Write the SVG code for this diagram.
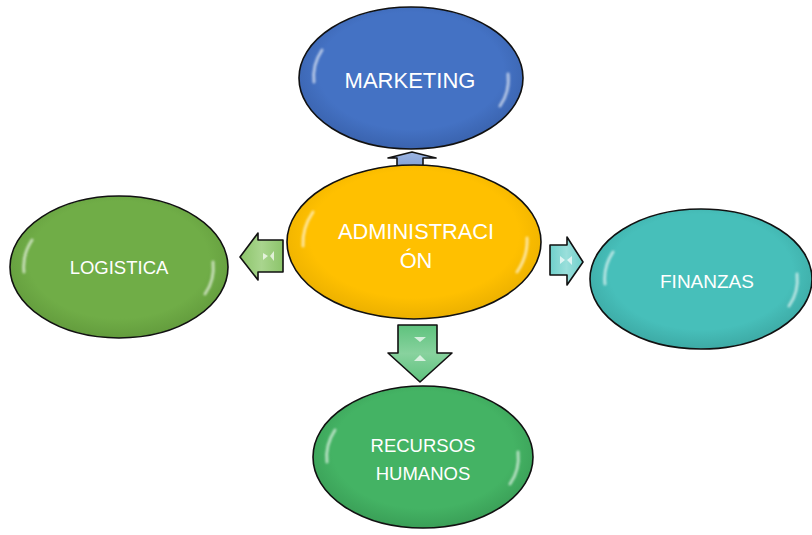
<svg xmlns="http://www.w3.org/2000/svg" width="812" height="535" viewBox="0 0 812 535">
<defs>
<radialGradient id="gBlue" cx="50%" cy="45%" r="55%"><stop offset="0.75" stop-color="#4472C4"/><stop offset="1" stop-color="#3A63AE"/></radialGradient>
<radialGradient id="gOrange" cx="50%" cy="45%" r="55%"><stop offset="0.75" stop-color="#FFC000"/><stop offset="1" stop-color="#EBB000"/></radialGradient>
<radialGradient id="gOlive" cx="50%" cy="45%" r="55%"><stop offset="0.75" stop-color="#70AD47"/><stop offset="1" stop-color="#639C3D"/></radialGradient>
<radialGradient id="gTeal" cx="50%" cy="45%" r="55%"><stop offset="0.75" stop-color="#47BFBA"/><stop offset="1" stop-color="#3DAAA5"/></radialGradient>
<radialGradient id="gGreen" cx="50%" cy="45%" r="55%"><stop offset="0.75" stop-color="#44B364"/><stop offset="1" stop-color="#3A9F57"/></radialGradient>
<linearGradient id="aBlue" x1="0" y1="0" x2="0" y2="1"><stop offset="0" stop-color="#9DB5E2"/><stop offset="1" stop-color="#7F9ED6"/></linearGradient>
<linearGradient id="aOlive" x1="0" y1="0" x2="1" y2="0"><stop offset="0" stop-color="#8CC46A"/><stop offset="0.5" stop-color="#A9D58E"/><stop offset="1" stop-color="#8CC46A"/></linearGradient>
<linearGradient id="aTeal" x1="0" y1="0" x2="1" y2="0"><stop offset="0" stop-color="#6FD0CB"/><stop offset="0.5" stop-color="#9ADFDB"/><stop offset="1" stop-color="#6FD0CB"/></linearGradient>
<linearGradient id="aGreen" x1="0" y1="0" x2="0" y2="1"><stop offset="0" stop-color="#5EC27D"/><stop offset="0.5" stop-color="#88D29E"/><stop offset="1" stop-color="#5EC27D"/></linearGradient>
<filter id="soft" x="-50%" y="-50%" width="200%" height="200%"><feGaussianBlur stdDeviation="1.2"/></filter>
</defs>
<style>
.node ellipse.body{stroke:#111;stroke-width:1.6}
.hl{fill:none;stroke:#fff;stroke-width:3;stroke-linecap:round;opacity:0.6;filter:url(#soft)}
.lbl{font-family:"Liberation Sans",Arial,sans-serif;fill:#fff;text-anchor:middle}
.arrow{stroke:#111;stroke-width:1.6;stroke-linejoin:round}
.glint{fill:#fff;opacity:0.7}
</style>
<rect width="812" height="535" fill="#fff"/>
<g id="connectors">
<path class="arrow" fill="url(#aBlue)" d="M397,170 L397,158 L388,158 L412,152 L436,158 L423,158 L423,170 Z"/>
<path class="arrow" fill="url(#aOlive)" d="M283,240 L258,240 L258,233 L240,257 L258,280 L258,272 L283,272 Z"/>
<path class="glint" d="M263,253 L268,256 L263,260 Z"/>
<path class="glint" d="M274,251 L270,256 L274,261 Z" opacity="0.5"/>
<path class="arrow" fill="url(#aTeal)" d="M550,245 L567,245 L567,237 L583,262 L567,285 L567,275 L550,275 Z"/>
<path class="glint" d="M560,256 L565,260 L560,264 Z" opacity="0.5"/>
<path class="glint" d="M572,256 L567,260 L572,265 Z"/>
<path class="arrow" fill="url(#aGreen)" d="M398,325 L437,325 L437,353 L452,353 L420,382 L388,353 L398,353 Z"/>
<path class="glint" d="M414,337 L426,337 L420,342 Z" opacity="0.5"/>
<path class="glint" d="M414,361 L426,361 L420,355 Z" opacity="0.5"/>
</g>
<g id="marketing" class="node">
<ellipse class="body" cx="411" cy="78" rx="112" ry="71" fill="url(#gBlue)"/>
<path class="hl" d="M322,50 Q312,65 314,82"/>
<path class="hl" d="M508,74 Q510,92 500,106"/>
<text class="lbl" x="410" y="88" font-size="22">MARKETING</text>
</g>
<g id="administracion" class="node">
<ellipse class="body" cx="414" cy="242" rx="127" ry="77" fill="url(#gOrange)"/>
<path class="hl" d="M313,212 Q302,228 303,246"/>
<path class="hl" d="M527,238 Q528,256 517,272"/>
<text class="lbl" x="416" y="239" font-size="21.8">ADMINISTRACI</text>
<text class="lbl" x="416" y="268" font-size="21.8">ÓN</text>
</g>
<g id="logistica" class="node">
<ellipse class="body" cx="119" cy="267" rx="109" ry="71" fill="url(#gOlive)"/>
<path class="hl" d="M32,240 Q22,255 24,272"/>
<path class="hl" d="M213,262 Q215,280 205,294"/>
<text class="lbl" x="119" y="274" font-size="18.5">LOGISTICA</text>
</g>
<g id="finanzas" class="node">
<ellipse class="body" cx="701" cy="279" rx="111" ry="70" fill="url(#gTeal)"/>
<path class="hl" d="M613,252 Q603,267 605,284"/>
<path class="hl" d="M797,274 Q799,292 789,306"/>
<text class="lbl" x="707" y="288" font-size="19">FINANZAS</text>
</g>
<g id="recursos" class="node">
<ellipse class="body" cx="423" cy="457" rx="110" ry="71" fill="url(#gGreen)"/>
<path class="hl" d="M335,430 Q325,445 327,462"/>
<path class="hl" d="M518,452 Q520,470 510,484"/>
<text class="lbl" x="423" y="452" font-size="18.5">RECURSOS</text>
<text class="lbl" x="423" y="480" font-size="18.5">HUMANOS</text>
</g>
</svg>
